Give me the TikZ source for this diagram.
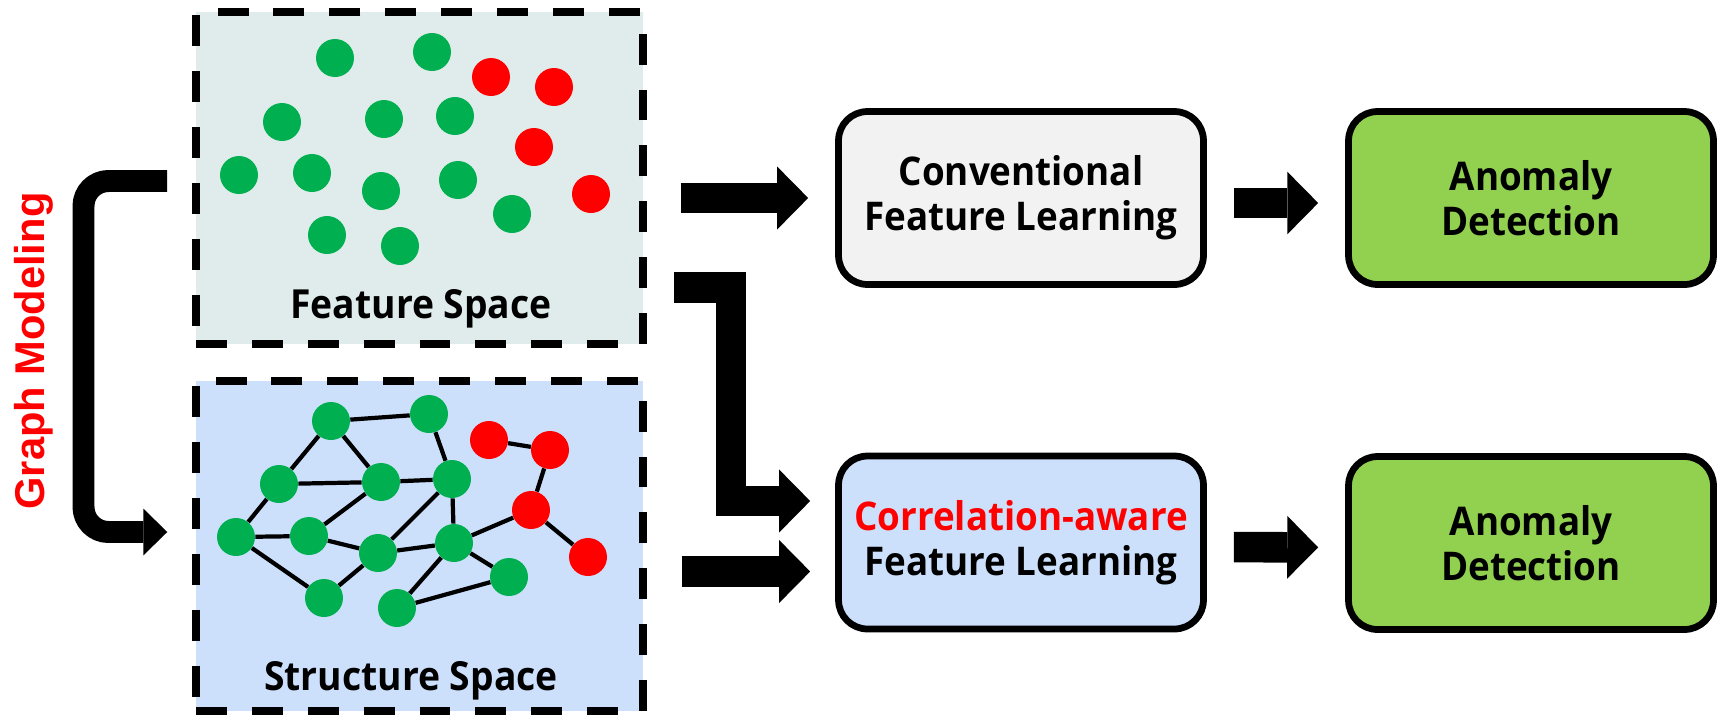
\documentclass[tikz,border=0pt]{standalone}
\usepackage{fontspec}
\setmainfont{Open Sans}[FakeStretch=0.93]
\newfontfamily\sidefont{Liberation Sans}
\usetikzlibrary{arrows.meta}
\definecolor{featfill}{HTML}{E0ECEC}
\definecolor{structfill}{HTML}{CCE0FB}
\definecolor{convfill}{HTML}{F2F2F2}
\definecolor{detfill}{HTML}{92D050}
\definecolor{dotgreen}{HTML}{00B050}
\definecolor{dotred}{HTML}{FF0000}
\begin{document}
\begin{tikzpicture}[x=0.02cm, y=-0.02cm, line join=round,
    spacebox/.style={draw, line width=4.3pt, dash pattern=on 17.6pt off 14.2pt,
      minimum width=8.94cm, inner sep=0pt},
    okdot/.style={circle, fill=dotgreen, minimum size=0.76cm, inner sep=0pt},
    anodot/.style={circle, fill=dotred, minimum size=0.76cm, inner sep=0pt},
    link/.style={line width=2.4pt},
    spacelabel/.style={anchor=base, font=\fontsize{22.8}{26}\selectfont\bfseries},
    stage/.style={draw, line width=3.85pt, rounded corners=0.58cm, minimum width=7.3cm,
      minimum height=3.46cm, align=center, font=\fontsize{22.5}{25.5}\selectfont\bfseries},
    blockarrow/.style={line width=17.4pt, line join=miter,
      -{Triangle[length=17.6pt, width=35.7pt, line width=0pt]}},
    bracket/.style={line width=12.5pt, rounded corners=0.5cm,
      -{Triangle[length=13.6pt, width=26.6pt, line width=0pt]}}]
  \useasboundingbox (0,0) rectangle (1718,721);
  \node[spacebox, fill=featfill, minimum height=6.64cm] (fs) at (419.5,178) {};
  \node[spacebox, fill=structfill, minimum height=6.6cm] (ss) at (419.5,546) {};
  \node[spacelabel] (fslabel) at (421,318) {Feature Space};
  \node[spacelabel] (sslabel) at (411,690) {Structure Space};
  \node[okdot] (g1) at (335,58) {};
  \node[okdot] (g2) at (432,52) {};
  \node[okdot] (g3) at (282,122) {};
  \node[okdot] (g4) at (384,119) {};
  \node[okdot] (g5) at (455,116) {};
  \node[okdot] (g6) at (239,175) {};
  \node[okdot] (g7) at (312,173) {};
  \node[okdot] (g8) at (381,191) {};
  \node[okdot] (g9) at (458,180) {};
  \node[okdot] (g10) at (512,214) {};
  \node[okdot] (g11) at (327,235) {};
  \node[okdot] (g12) at (400,246) {};
  \node[anodot] (r1) at (491,77) {};
  \node[anodot] (r2) at (554,87) {};
  \node[anodot] (r3) at (534,147) {};
  \node[anodot] (r4) at (591,194) {};
  \node[okdot] (sa) at (331,421) {};
  \node[okdot] (sb) at (429,414) {};
  \node[okdot] (sc) at (279,484) {};
  \node[okdot] (sd) at (381,482) {};
  \node[okdot] (se) at (452,479) {};
  \node[okdot] (sf) at (236,537) {};
  \node[okdot] (sg) at (309,536) {};
  \node[okdot] (sh) at (378,553) {};
  \node[okdot] (si) at (454,543) {};
  \node[okdot] (sj) at (509,577) {};
  \node[okdot] (sk) at (324,598) {};
  \node[okdot] (sl) at (397,608) {};
  \node[anodot] (sr1) at (489,440) {};
  \node[anodot] (sr2) at (550,450) {};
  \node[anodot] (sr3) at (531,510) {};
  \node[anodot] (sr4) at (588,557) {};
  \draw[link] (sa) -- (sb);
  \draw[link] (sa) -- (sc);
  \draw[link] (sa) -- (sd);
  \draw[link] (sb) -- (se);
  \draw[link] (sc) -- (sd);
  \draw[link] (sd) -- (se);
  \draw[link] (sc) -- (sf);
  \draw[link] (sf) -- (sg);
  \draw[link] (sg) -- (sd);
  \draw[link] (sg) -- (sh);
  \draw[link] (sf) -- (sk);
  \draw[link] (sk) -- (sh);
  \draw[link] (sh) -- (se);
  \draw[link] (sh) -- (si);
  \draw[link] (se) -- (si);
  \draw[link] (si) -- (sr3);
  \draw[link] (si) -- (sj);
  \draw[link] (si) -- (sl);
  \draw[link] (sj) -- (sl);
  \draw[link] (sr3) -- (sr2);
  \draw[link] (sr2) -- (sr1);
  \draw[link] (sr3) -- (sr4);
  \node[stage, fill=convfill] (conv) at (1021,198) {Conventional\\Feature Learning};
  \node[stage, fill=detfill] (det1) at (1531,198) {Anomaly\\Detection};
  \node[stage, fill=structfill] (corr) at (1021,542.5) {\textcolor{dotred}{Correlation-aware}\\Feature Learning};
  \node[stage, fill=detfill] (det2) at (1531,543) {Anomaly\\Detection};
  \node[rotate=90, anchor=base, text=dotred, font=\sidefont\fontsize{23.7}{27}\selectfont\bfseries]
    (gm) at (44,351) {Graph Modeling};
  \coordinate (gmstart) at (167,181);
  \coordinate (split) at (674,287.5);
  \coordinate (lowin) at ([yshift=-0.58cm]corr.west);
  \draw[bracket, shorten >=0.5cm] (gmstart) -- ++(-83.5,0) |- ([yshift=0.28cm]ss.west);
  \draw[blockarrow, shorten >=0.54cm] ([xshift=0.68cm]fs.east |- conv.west) -- (conv.west);
  \draw[blockarrow, shorten <=0.54cm, shorten >=0.54cm] ([yshift=-0.1cm]conv.east) -- ([yshift=-0.1cm]det1.west);
  \draw[blockarrow, shorten >=0.5cm] (split) -- ++(57,0) |- ([yshift=0.83cm]corr.west);
  \draw[blockarrow, shorten >=0.5cm] ([xshift=0.7cm]ss.east |- lowin) -- (lowin);
  \draw[blockarrow, shorten <=0.54cm, shorten >=0.54cm] ([yshift=-0.09cm]corr.east) -- ([yshift=-0.09cm]det2.west);
\end{tikzpicture}
\end{document}
